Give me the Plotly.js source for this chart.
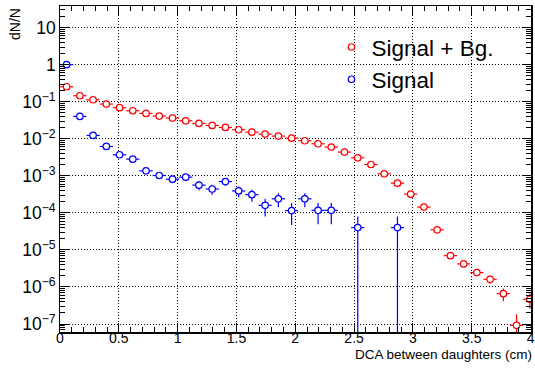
<!DOCTYPE html>
<html>
<head>
<meta charset="utf-8">
<script src="https://cdn.plot.ly/plotly-3.0.1.min.js"></script>
<style>
  html, body { margin: 0; padding: 0; background: #ffffff; }
  #plot { width: 535px; height: 368px; }
</style>
</head>
<body>
<div id="plot"></div>
<script>
// DCA bins (cm): centres of 0.1125 cm wide bins
const dcaBins = [
  0.05625, 0.16875, 0.28125, 0.39375, 0.50625, 0.61875, 0.73125, 0.84375, 0.95625,
  1.06875, 1.18125, 1.29375, 1.40625, 1.51875, 1.63125, 1.74375, 1.85625, 1.96875,
  2.08125, 2.19375, 2.30625, 2.41875, 2.53125, 2.64375, 2.75625, 2.86875, 2.98125,
  3.09375, 3.20625, 3.31875, 3.43125, 3.54375, 3.65625, 3.76875, 3.88125, 3.99375
];
const binHalfWidth = 0.05625;

// Signal + background, normalised
const sigBgValues = [
  0.254, 0.145, 0.113, 0.0865, 0.0689, 0.0571, 0.0484, 0.0410, 0.0362,
  0.0306, 0.0259, 0.0229, 0.0202, 0.0175, 0.0151, 0.0134, 0.0118, 0.0104,
  0.00883, 0.00733, 0.00596, 0.00437, 0.00306, 0.00202, 0.00113, 0.000634, 0.00032,
  0.000143, 3.48e-5, 7.0e-6, 4.19e-6, 2.44e-6, 1.61e-6, 6.6e-7, 9.2e-8, 4.66e-7
];
const sigBgErrors = [
  1.5e-4, 1.15e-4, 1.02e-4, 8.9e-5, 8.0e-5, 7.2e-5, 6.7e-5, 6.1e-5, 5.8e-5,
  5.3e-5, 4.9e-5, 4.6e-5, 4.3e-5, 4.0e-5, 3.7e-5, 3.5e-5, 3.3e-5, 3.1e-5,
  2.85e-5, 2.6e-5, 2.3e-5, 2.0e-5, 1.7e-5, 1.36e-5, 1.02e-5, 7.6e-6, 5.4e-6,
  3.6e-6, 1.8e-6, 8.0e-7, 6.2e-7, 4.7e-7, 3.85e-7, 2.46e-7, 9.2e-8, 2.07e-7
];

// Signal only, normalised (empty bins are null)
const signalValues = [
  1.0, 0.0401, 0.0123, 0.0062, 0.0037, 0.00282, 0.00136, 0.00102, 0.00081,
  0.00092, 0.00056, 0.00044, 0.0007, 0.00039, 0.00031, 0.00016, 0.00024, 0.000115,
  0.00024, 0.000117, 0.000117, null, 4.0e-5, null, null, 4.0e-5, null,
  null, null, null, null, null, null, null, null, null
];
const signalErrors = [
  0.0063, 0.00127, 0.0007, 0.0005, 0.000385, 0.000336, 0.000233, 0.000202, 0.00018,
  0.000192, 0.00015, 0.000133, 0.000167, 0.000125, 0.000111, 0.00008, 0.000098, 0.000068,
  0.000098, 0.000068, 0.000068, null, 0.00004, null, null, 0.00004, null,
  null, null, null, null, null, null, null, null, null
];

const seriesNames = ['Signal + Bg.', 'Signal'];
const xTitle = 'DCA between daughters (cm)';
const yTitle = 'dN/N';

const FONT = 'Liberation Sans, Arial, Helvetica, sans-serif';

function histTrace(name, y, err, color) {
  return {
    type: 'scatter',
    mode: 'markers',
    name: name,
    x: dcaBins,
    y: y,
    marker: { symbol: 'circle', size: 6.5, color: '#ffffff', line: { color: color, width: 1.2 } },
    error_y: { type: 'data', array: err, visible: true, color: color, thickness: 1.2, width: 0 },
    error_x: { type: 'constant', value: binHalfWidth, visible: true, color: color, thickness: 1.2, width: 0 },
    cliponaxis: true
  };
}

const data = [
  histTrace(seriesNames[0], sigBgValues, sigBgErrors, '#ff0000'),
  histTrace(seriesNames[1], signalValues, signalErrors, '#0000ff')
];

const gridDash = '1px,2px';

const layout = {
  width: 535,
  height: 368,
  margin: { l: 60, r: 4, t: 6, b: 36, pad: 0 },
  paper_bgcolor: '#ffffff',
  plot_bgcolor: '#ffffff',
  font: { family: FONT, size: 13.5, color: '#000000' },
  showlegend: true,
  legend: {
    x: 0.5764, y: 0.939, xanchor: 'left', yanchor: 'top',
    bgcolor: 'rgba(0,0,0,0)', borderwidth: 0,
    font: { family: FONT, size: 22.5, color: '#000000' },
    tracegroupgap: 0
  },
  xaxis: {
    range: [0, 4.004],
    tick0: 0, dtick: 0.5,
    ticks: 'inside', ticklen: 9, tickwidth: 1, tickcolor: '#000000',
    ticklabelstandoff: -7,
    minor: { dtick: 0.1, ticks: 'inside', ticklen: 5, tickwidth: 1, tickcolor: '#000000', showgrid: false },
    mirror: 'allticks',
    showline: true, linecolor: '#000000', linewidth: 1.5,
    showgrid: true, gridcolor: '#000000', gridwidth: 1, griddash: gridDash,
    zeroline: false,
    tickfont: { family: FONT, size: 14, color: '#000000' }
  },
  yaxis: {
    type: 'log',
    range: [-7.216, 1.584],
    dtick: 1,
    exponentformat: 'power',
    ticks: 'inside', ticklen: 9, tickwidth: 1, tickcolor: '#000000',
    minor: { dtick: 'D1', ticks: 'inside', ticklen: 5, tickwidth: 1, tickcolor: '#000000', showgrid: false },
    mirror: 'allticks',
    showline: true, linecolor: '#000000', linewidth: 1.5,
    showgrid: true, gridcolor: '#000000', gridwidth: 1, griddash: gridDash,
    zeroline: false,
    tickfont: { family: FONT, size: 14, color: '#000000' }
  },
  annotations: [
    {
      text: yTitle, xref: 'paper', yref: 'paper',
      x: -0.0955, y: 1.0, xanchor: 'center', yanchor: 'top',
      textangle: -90, showarrow: false,
      font: { family: FONT, size: 14, color: '#000000' }
    },
    {
      text: xTitle, xref: 'paper', yref: 'paper',
      x: 1.006, y: -0.07, xanchor: 'right', yanchor: 'middle',
      showarrow: false,
      font: { family: FONT, size: 13.5, color: '#000000' }
    }
  ]
};

Plotly.newPlot('plot', data, layout, { displayModeBar: false, staticPlot: true });
</script>
</body>
</html>
